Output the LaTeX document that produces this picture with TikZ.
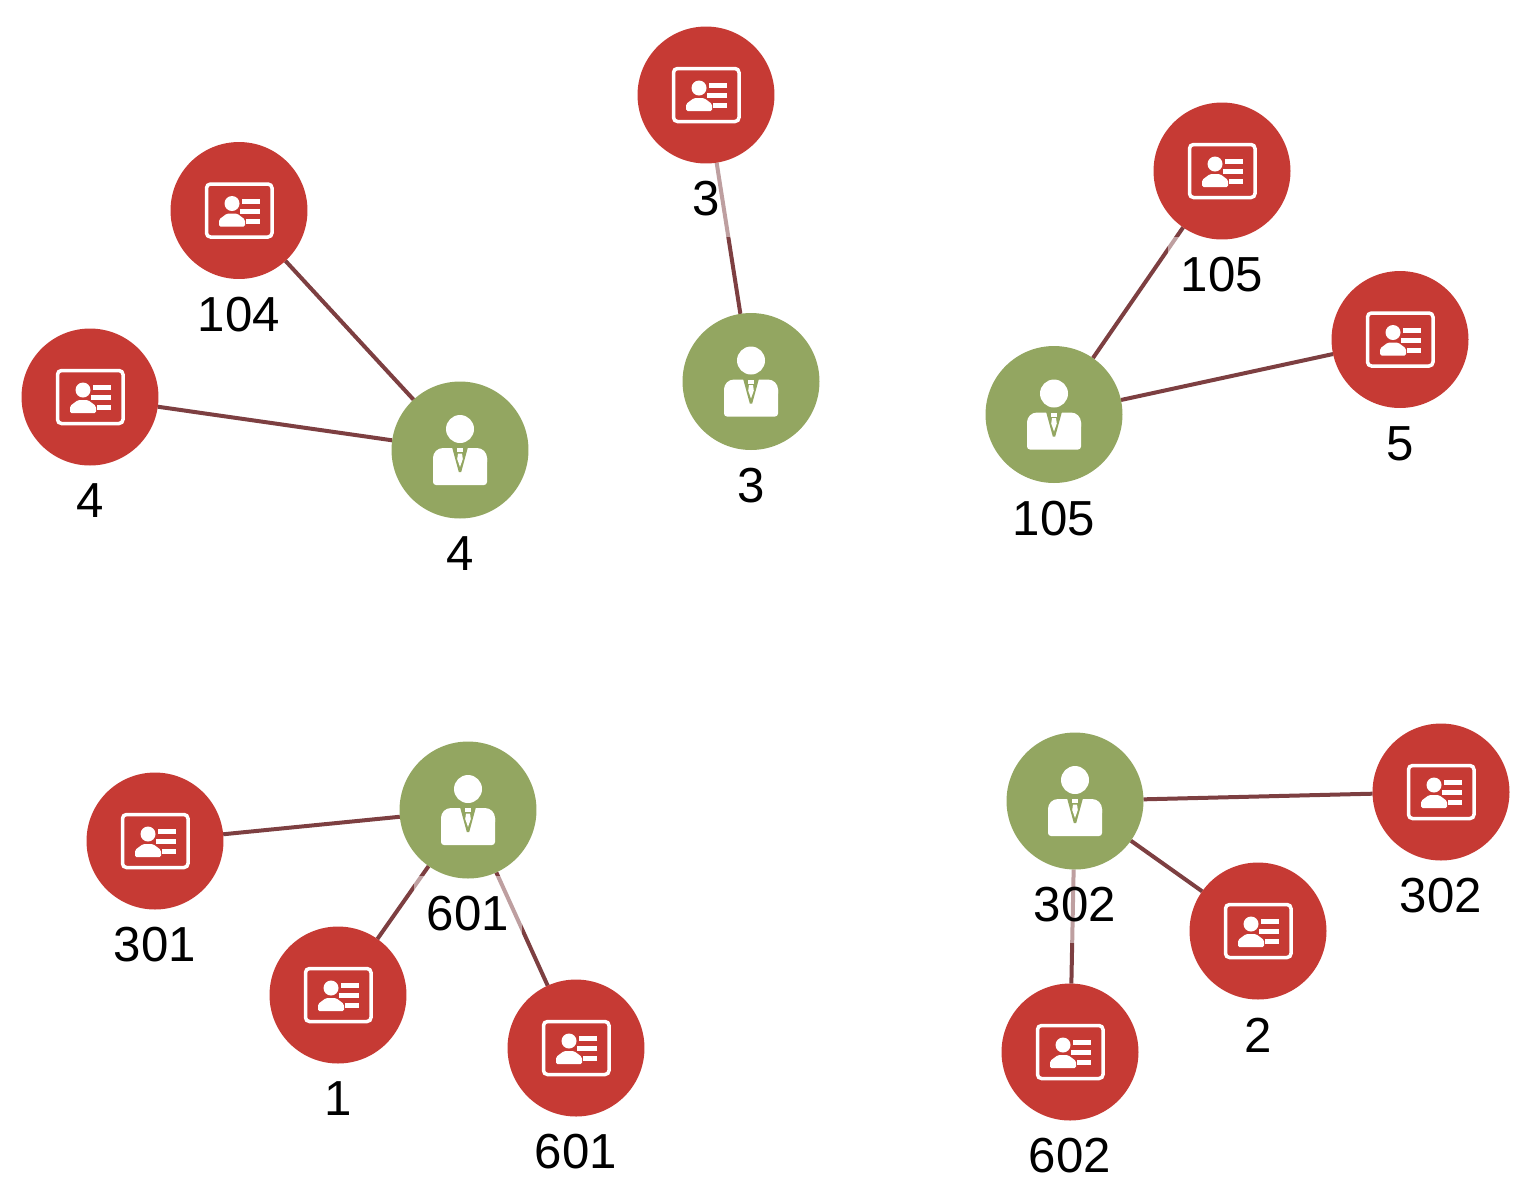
\documentclass[tikz,border=0pt]{standalone}
\usepackage{xcolor}
\usepackage{fontspec}
\setmainfont{Liberation Sans}
\definecolor{cardRed}{HTML}{C63A34}
\definecolor{personGreen}{HTML}{93A661}
\definecolor{linkBrown}{HTML}{7D3F41}
\usetikzlibrary{positioning,backgrounds}
\newcommand{\cardicon}{%
  \begin{scope}[shift={(path picture bounding box.center)}]
    \draw[white, line width=0.07cm, rounded corners=0.08cm] (-32.5,-26.5) rectangle (33,26.5);
    \fill[white] (-7,-7) circle [radius=7.5];
    \fill[white, rounded corners=0.03cm] (-20,16) -- (-20,9) -- (-12,3) -- (-2,3) -- (6,9) -- (6,16) -- cycle;
    \fill[white] (3,-12) rectangle (21,-7);
    \fill[white] (1,-2) rectangle (21,3);
    \fill[white] (7,8) rectangle (21,13);
  \end{scope}}
\newcommand{\personicon}{%
  \begin{scope}[shift={(path picture bounding box.center)}]
    \fill[white] (0,-21) circle [radius=14];
    \fill[white, rounded corners=0.2cm] (-27,12) -- (-27,-2) -- (27,-2) -- (27,12);
    \fill[white, rounded corners=0.06cm] (-27,5) -- (-27,35) -- (27,35) -- (27,5) -- cycle;
    \fill[personGreen] (-8,-3) -- (8,-3) -- (1.2,22) -- (-1.2,22) -- cycle;
    \fill[white] (-3,-2) rectangle (3,2);
    \fill[white] (-2,3.5) -- (2,3.5) -- (2.8,9) -- (0,17) -- (-2.8,9) -- cycle;
  \end{scope}}
\begin{document}
\begin{tikzpicture}[x=0.02cm, y=-0.02cm,
    card/.style={circle, fill=cardRed, minimum size=2.74cm, inner sep=0pt, outer sep=0pt,
                 path picture={\cardicon}},
    person/.style={circle, fill=personGreen, minimum size=2.74cm, inner sep=0pt, outer sep=0pt,
                   path picture={\personicon}},
    tag/.style={fill=white, fill opacity=0.5, text opacity=1, font=\fontsize{28}{30}\selectfont,
                minimum height=1.52cm, inner xsep=0.25cm, inner ysep=0pt, outer sep=0pt,
                below=-0.05cm of #1},
    link/.style={draw=linkBrown, line width=0.08cm}]
  \useasboundingbox (0,0) rectangle (1530,1198);
  % top left
  \node[person] (p4) at (460,450) {};
  \node[card] (c104) at (239,210.5) {};
  \node[card] (c4) at (90,397) {};
  % top middle
  \node[person] (p3) at (751,381.5) {};
  \node[card] (c3) at (706,95) {};
  % top right
  \node[person] (p105) at (1054,414.5) {};
  \node[card] (c105) at (1222,171) {};
  \node[card] (c5) at (1400,339.5) {};
  % bottom left
  \node[person] (p601) at (468,810) {};
  \node[card] (c301) at (155,841) {};
  \node[card] (c1) at (338,995) {};
  \node[card] (c601) at (576,1048) {};
  % bottom right
  \node[person] (p302) at (1075,801) {};
  \node[card] (c302) at (1441,792) {};
  \node[card] (c2) at (1258,931) {};
  \node[card] (c602) at (1070,1052) {};
  \begin{scope}[on background layer]
    \draw[link] (c104) -- (p4);
    \draw[link] (c4) -- (p4);
    \draw[link] (c3) -- (p3);
    \draw[link] (c105) -- (p105);
    \draw[link] (c5) -- (p105);
    \draw[link] (c301) -- (p601);
    \draw[link] (c1) -- (p601);
    \draw[link] (c601) -- (p601);
    \draw[link] (c302) -- (p302);
    \draw[link] (c2) -- (p302);
    \draw[link] (c602) -- (p302);
    % labels
    \node[tag=p4] (lp4) {4};
    \node[tag=c104] (lc104) {104};
    \node[tag=c4] (lc4) {4};
    \node[tag=p3] (lp3) {3};
    \node[tag=c3] (lc3) {3};
    \node[tag=p105] (lp105) {105};
    \node[tag=c105] (lc105) {105};
    \node[tag=c5] (lc5) {5};
    \node[tag=p601] (lp601) {601};
    \node[tag=c301] (lc301) {301};
    \node[tag=c1] (lc1) {1};
    \node[tag=c601] (lc601) {601};
    \node[tag=p302] (lp302) {302};
    \node[tag=c302] (lc302) {302};
    \node[tag=c2] (lc2) {2};
    \node[tag=c602] (lc602) {602};
  \end{scope}
\end{tikzpicture}
\end{document}
